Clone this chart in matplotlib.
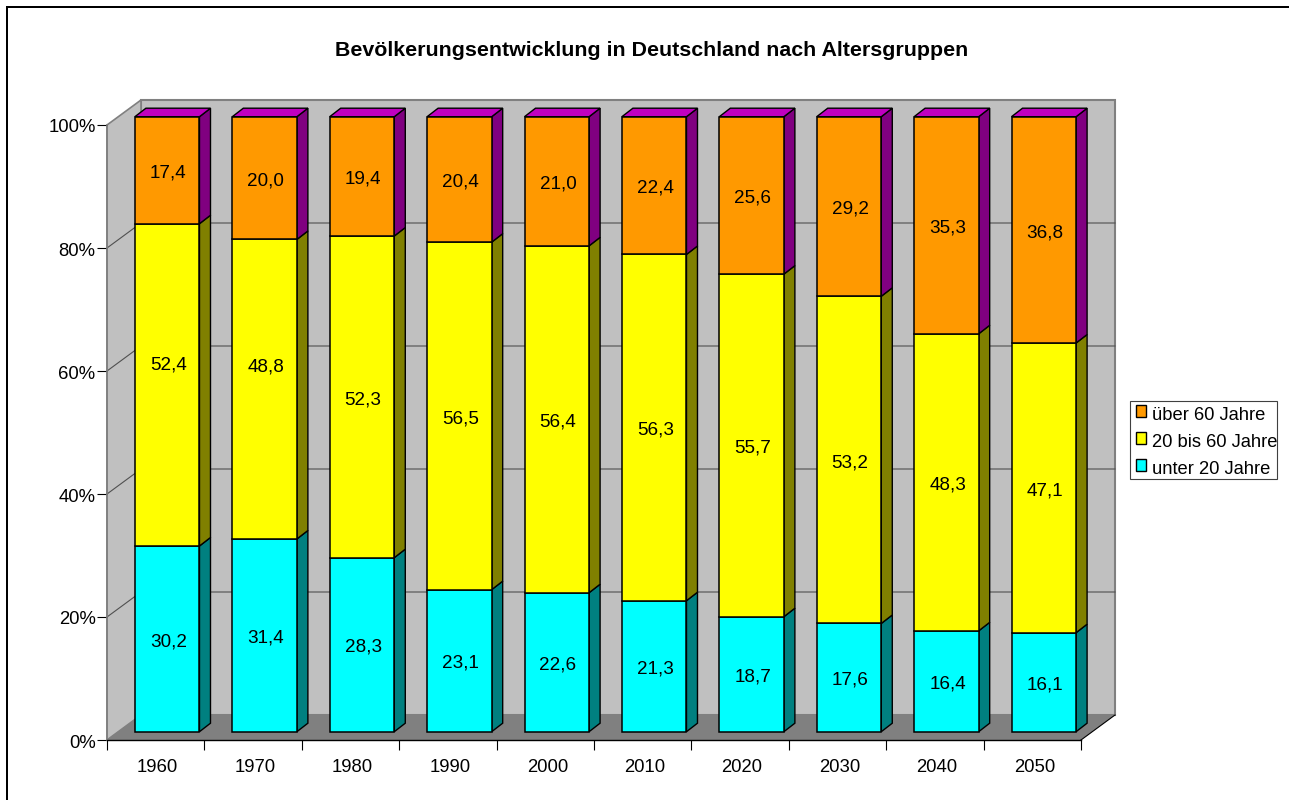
import numpy as np
import matplotlib
matplotlib.use('Agg')
import matplotlib.pyplot as plt
from matplotlib.patches import Patch, Rectangle
from matplotlib.transforms import ScaledTranslation

plt.rcParams['font.family'] = ['Liberation Sans', 'DejaVu Sans']

# Daten
jahre = ['1960', '1970', '1980', '1990', '2000', '2010', '2020', '2030', '2040', '2050']
unter_20 = [30.2, 31.4, 28.3, 23.1, 22.6, 21.3, 18.7, 17.6, 16.4, 16.1]
bis_60 = [52.4, 48.8, 52.3, 56.5, 56.4, 56.3, 55.7, 53.2, 48.3, 47.1]
ueber_60 = [17.4, 20.0, 19.4, 20.4, 21.0, 22.4, 25.6, 29.2, 35.3, 36.8]
y_ticks = [0, 20, 40, 60, 80, 100]

W, H = 1289, 800
fig = plt.figure(figsize=(W / 100, H / 100), dpi=100, facecolor='white')

# Diagrammrahmen (laeuft rechts und unten aus dem Bild)
fig.add_artist(Rectangle((7 / W, -0.02), 1.05, 1 - 7 / H + 0.02, transform=fig.transFigure,
                         fill=False, edgecolor='black', linewidth=1.44))

# vordere Ebene der Achsen in Pixeln
left, right, top, bottom = 107, 1081, 125, 740
ax = fig.add_axes([left / W, 1 - bottom / H, (right - left) / W, (bottom - top) / H])
ax.set_xlim(0, len(jahre))
ax.set_ylim(0, 100)
ax.patch.set_visible(False)
px_x = (right - left) / len(jahre)
px_y = (bottom - top) / 100

# Tiefe von Raum und Saeulen
room_dx, room_dy = 34 / px_x, 25 / px_y
bar_dx, bar_dy = 11 / px_x, 8.5 / px_y
off_x, off_y = 11.5 / px_x, 8.3 / px_y
bar_w = 0.663

n = len(jahre)
ax.fill([room_dx, n + room_dx, n + room_dx, room_dx], [room_dy, room_dy, 100 + room_dy, 100 + room_dy],
        facecolor='#C0C0C0', edgecolor='#808080', linewidth=1.5, clip_on=False, zorder=1)
ax.fill([0, room_dx, room_dx, 0], [0, room_dy, 100 + room_dy, 100],
        facecolor='#C0C0C0', edgecolor='#808080', linewidth=1.2, clip_on=False, zorder=1)
ax.fill([0, n, n + room_dx, room_dx], [0, 0, room_dy, room_dy],
        facecolor='#808080', edgecolor='none', clip_on=False, zorder=1)
ax.plot([n, n + room_dx], [0, room_dy], color='black', linewidth=0.8, clip_on=False, zorder=2)

# Gitterlinien
for t in y_ticks[1:-1]:
    ax.plot([0, room_dx, n + room_dx], [t, t + room_dy, t + room_dy], color='#505050',
            linewidth=0.8, clip_on=False, zorder=2)

# Saeulen
reihen = [(unter_20, '#00FFFF', '#008080', 'unter 20 Jahre'),
          (bis_60, '#FFFF00', '#808000', '20 bis 60 Jahre'),
          (ueber_60, '#FF9900', '#800080', 'über 60 Jahre')]
# zwei Beschriftungen stehen im Original weiter oben
label_shift = {(0, 1): 3.7, (1, 1): 4.0}

x0 = np.arange(n) + (1 - bar_w) / 2 + off_x
unten = np.full(n, off_y)
for s, (werte, farbe, seite, name) in enumerate(reihen):
    werte = np.array(werte)
    anteil = werte / (np.array(unter_20) + np.array(bis_60) + np.array(ueber_60)) * 100
    ax.bar(x0, anteil, bar_w, bottom=unten, align='edge', color=farbe, edgecolor='black',
           linewidth=1.1, clip_on=False, zorder=4)
    for i in range(n):
        xr = x0[i] + bar_w
        ax.fill([xr, xr + bar_dx, xr + bar_dx, xr],
                [unten[i], unten[i] + bar_dy, unten[i] + anteil[i] + bar_dy, unten[i] + anteil[i]],
                facecolor=seite, edgecolor='black', linewidth=1.0, clip_on=False, zorder=3)
        ax.text(x0[i] + bar_w / 2 + 0.012, unten[i] + anteil[i] / 2 - 0.45 + label_shift.get((i, s), 0),
                f'{werte[i]:.1f}'.replace('.', ','), ha='center', va='center', fontsize=13.6,
                color='black', zorder=6)
    unten = unten + anteil

# Deckflaechen
for i in range(n):
    ax.fill([x0[i], x0[i] + bar_w, x0[i] + bar_w + bar_dx, x0[i] + bar_dx],
            [unten[i], unten[i], unten[i] + bar_dy, unten[i] + bar_dy],
            facecolor='#C000C0', edgecolor='black', linewidth=1.0, clip_on=False, zorder=3)

# Achsen
for sp in ['top', 'right']:
    ax.spines[sp].set_visible(False)
ax.spines['left'].set_color('#808080')
ax.spines['left'].set_linewidth(1.2)
ax.spines['bottom'].set_color('black')
ax.spines['bottom'].set_linewidth(1.0)
ax.set_yticks(y_ticks)
ax.set_yticklabels([f'{t}%' for t in y_ticks], fontsize=13.3)
ax.set_xticks(np.arange(n + 1))
ax.set_xticklabels([])
ax.set_xticks(np.arange(n) + 0.5, labels=jahre, minor=True, fontsize=13.3)
ax.tick_params(axis='y', length=7.2, width=0.8, pad=1, color='black')
ax.tick_params(axis='x', which='major', length=7.2, width=0.8, color='black')
ax.tick_params(axis='x', which='minor', length=0, pad=13.5)

# Achsentexte stehen im Original etwas versetzt
versatz_x = ScaledTranslation(2 / 100, 0, fig.dpi_scale_trans)
versatz_y = ScaledTranslation(0, -1 / 100, fig.dpi_scale_trans)
for lab in ax.get_xticklabels(minor=True):
    lab.set_transform(lab.get_transform() + versatz_x)
for lab in ax.get_yticklabels():
    lab.set_transform(lab.get_transform() + versatz_y)

fig.text(652 / W, 1 - 50 / H, 'Bevölkerungsentwicklung in Deutschland nach Altersgruppen',
         ha='center', va='center', fontsize=15.4, fontweight='bold')

# Legende: Rahmen separat, der Text reicht im Original fast bis an den rechten Rand
fig.add_artist(Rectangle((1130 / W, 1 - 479 / H), 147 / W, 78 / H, transform=fig.transFigure,
                         facecolor='white', edgecolor='#404040', linewidth=0.8))
griffe = [Patch(facecolor=f, edgecolor='black', linewidth=1.0, label=name) for _, f, _, name in reihen[::-1]]
leg = fig.legend(handles=griffe, loc='center left', bbox_to_anchor=(1130 / W, 1 - 440 / H),
                 frameon=False, fontsize=13.2,
                 handlelength=0.58, handleheight=0.58, handletextpad=0.3, labelspacing=0.55,
                 borderpad=0.3, borderaxespad=0)
for t in leg.get_texts():
    t.set_y(-2.5)

fig.savefig('out.png', dpi=100)
